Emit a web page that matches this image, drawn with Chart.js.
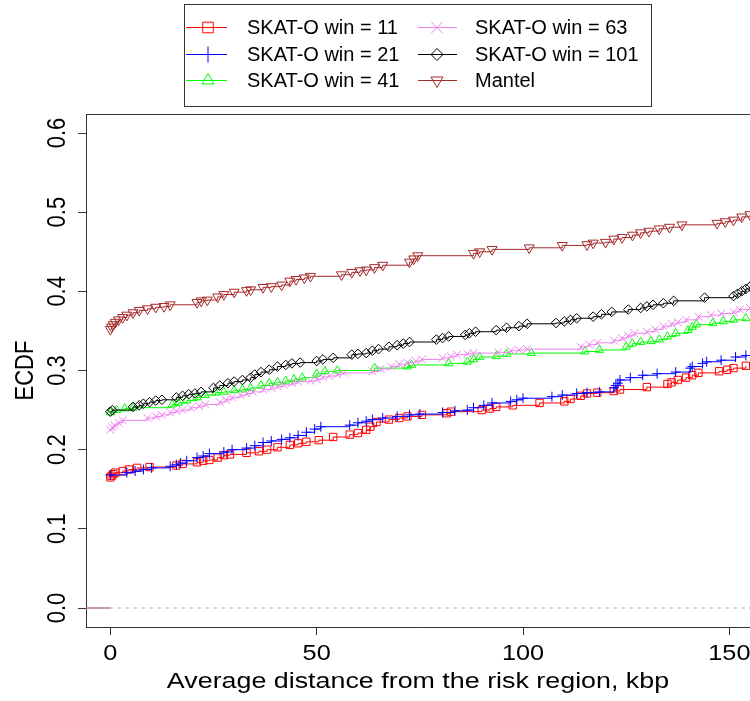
<!DOCTYPE html>
<html>
  <head>
    <meta charset="utf-8">
    <script src="https://cdnjs.cloudflare.com/ajax/libs/Chart.js/4.4.1/chart.umd.min.js"></script>
    <style>
      html, body { margin: 0; padding: 0; background: #fff; overflow: hidden; }
      #wrapper { width: 750px; height: 701px; position: relative; }
      #chart { display: block; }
    </style>
  </head>
  <body>
    <div id="wrapper"><canvas id="chart"></canvas></div>
    <script>
      // ECDF steps: [distance kbp, ECDF]
      const win11 = [[0,0.165],[0.3,0.167],[0.7,0.169],[1.2,0.171],[3,0.173],[4.5,0.175],[6.5,0.177],[9.5,0.178],
        [16,0.180],[17.5,0.182],[21,0.184],[22.5,0.186],[24,0.187],[26,0.190],[27.5,0.193],[29,0.194],
        [33,0.196],[36,0.198],[38,0.200],[40.5,0.203],[43.5,0.206],[45.5,0.208],[47.5,0.210],[50.5,0.212],
        [54,0.216],[58,0.219],[60,0.221],[62,0.225],[63,0.229],[64.5,0.235],[67.5,0.238],[70,0.240],
        [72,0.242],[75.5,0.244],[81.5,0.246],[82.5,0.248],[90,0.250],[92,0.252],[93.5,0.254],[97.5,0.256],
        [104,0.259],[110,0.261],[111.5,0.264],[114,0.268],[115.5,0.271],[118,0.272],[122,0.274],[123.5,0.276],
        [130,0.279],[135,0.283],[136,0.285],[137.5,0.288],[139.5,0.291],[141,0.294],[142.5,0.297],[147.5,0.299],
        [149.5,0.301],[151,0.303],[154,0.306]];
      const win21 = [[0,0.168],[4,0.171],[6,0.173],[8,0.175],[10,0.177],[14.5,0.179],[16,0.181],[17,0.183],
        [18.5,0.186],[21,0.190],[22.5,0.192],[24,0.195],[27.5,0.197],[29.5,0.200],[33,0.202],[35,0.205],
        [37,0.209],[39,0.211],[41.5,0.213],[43.5,0.215],[45.5,0.218],[47.5,0.222],[49.5,0.226],[51,0.229],
        [58,0.231],[60,0.234],[62,0.236],[63.5,0.238],[66,0.240],[69.5,0.242],[72.5,0.244],[75,0.245],
        [80.5,0.247],[83.5,0.249],[86.5,0.250],[88,0.253],[90.5,0.256],[92.5,0.259],[97,0.261],[98.5,0.263],
        [100,0.265],[107,0.267],[109.5,0.269],[113,0.271],[115.5,0.272],[118.5,0.273],[122,0.278],[122.5,0.281],
        [123,0.284],[123.5,0.288],[126,0.291],[129,0.294],[132.5,0.296],[137,0.298],[140.5,0.303],[141,0.305],
        [143.5,0.309],[144.5,0.311],[148,0.313],[151.5,0.317],[154,0.319]];
      const win41 = [[0,0.247],[1.5,0.250],[3.5,0.252],[5.5,0.253],[15,0.257],[16.5,0.259],[18.5,0.262],[21,0.266],
        [23,0.269],[25.5,0.272],[27.5,0.273],[30,0.275],[32,0.276],[34,0.278],[36.5,0.281],[38.5,0.284],
        [40.5,0.285],[42.5,0.287],[44.5,0.289],[46.5,0.291],[50,0.296],[52,0.299],[55,0.300],[64,0.303],
        [72,0.305],[73,0.307],[82,0.309],[86.5,0.311],[88,0.314],[89.5,0.317],[93.5,0.318],[96,0.321],
        [102,0.322],[115,0.324],[118.5,0.326],[125,0.330],[126.5,0.334],[128.5,0.336],[131,0.337],[133,0.339],
        [135,0.343],[137,0.347],[140,0.351],[141,0.355],[142,0.358],[146,0.360],[148.5,0.362],[151,0.364],
        [154,0.366]];
      const win63 = [[0,0.225],[0.5,0.228],[1,0.231],[2,0.234],[3,0.237],[9,0.240],[11,0.242],[12.5,0.244],
        [14.5,0.247],[16,0.249],[17.5,0.250],[19.5,0.253],[21.5,0.255],[23,0.257],[26.5,0.260],[28,0.263],
        [29.5,0.266],[31.5,0.269],[33,0.271],[34.5,0.273],[37,0.276],[39,0.278],[40.5,0.280],[42,0.282],
        [44,0.284],[45.5,0.286],[48.5,0.287],[50,0.289],[51.5,0.292],[53,0.293],[55,0.295],[56.5,0.297],
        [63.5,0.299],[65.5,0.302],[68,0.305],[70,0.308],[72,0.310],[74,0.312],[75.5,0.314],[80.5,0.316],
        [82.5,0.318],[84,0.320],[86.5,0.321],[88,0.322],[94,0.323],[97,0.325],[99,0.326],[101,0.327],
        [114,0.330],[116,0.333],[118,0.335],[122,0.338],[124,0.341],[125.5,0.344],[127,0.347],[130,0.349],
        [132,0.352],[134,0.356],[136,0.359],[137.5,0.361],[139.5,0.364],[142.5,0.368],[145.5,0.370],[148,0.372],
        [151,0.374],[152.5,0.377],[155,0.379]];
      const win101 = [[0,0.248],[0.5,0.250],[5.5,0.254],[7,0.256],[8,0.258],[9.5,0.260],[11,0.262],[12.5,0.263],
        [16,0.266],[17.5,0.268],[19,0.270],[20.5,0.271],[22,0.273],[25,0.278],[26.5,0.281],[28.5,0.284],
        [30,0.286],[32,0.288],[34,0.291],[35,0.295],[36.5,0.298],[38.5,0.301],[40.5,0.305],[42.5,0.307],
        [44,0.309],[46,0.310],[50,0.312],[51.5,0.314],[54,0.316],[58.5,0.320],[60,0.321],[62,0.322],
        [63.5,0.325],[65,0.327],[67.5,0.330],[69.5,0.332],[71,0.334],[72.5,0.336],[79,0.339],[80.5,0.341],
        [82,0.343],[86,0.345],[87,0.347],[88.5,0.349],[93.5,0.351],[96,0.354],[99,0.356],[101,0.359],
        [108,0.360],[110,0.362],[111.5,0.364],[113,0.366],[117,0.368],[119,0.371],[121.5,0.374],[125.5,0.377],
        [128.5,0.379],[130,0.381],[131.5,0.383],[134,0.385],[136.5,0.388],[144,0.392],[151,0.394],[152,0.397],
        [153,0.400],[154,0.403],[155,0.406]];
      const mantel = [[0,0.352],[0.3,0.355],[0.7,0.358],[1.2,0.361],[2,0.364],[3,0.367],[4,0.370],[5.5,0.373],
        [7,0.376],[9,0.378],[11,0.380],[13,0.381],[14.5,0.383],[21,0.386],[22,0.388],[23.5,0.389],
        [26,0.393],[27.5,0.396],[30,0.399],[33,0.401],[34,0.402],[37,0.405],[39,0.406],[41.5,0.408],
        [43.5,0.413],[45,0.415],[47,0.417],[48.5,0.419],[56,0.421],[58.5,0.424],[60.5,0.426],[62,0.427],
        [64,0.430],[66,0.433],[72.5,0.437],[73.5,0.441],[74.5,0.445],[88,0.448],[89.5,0.450],[92.5,0.453],
        [101.5,0.455],[109.5,0.458],[115.5,0.459],[117,0.461],[120,0.462],[122,0.466],[124,0.468],[126.5,0.471],
        [128.5,0.474],[130.5,0.476],[133,0.479],[135.5,0.481],[138.5,0.484],[147,0.486],[149,0.488],[151,0.490],
        [153,0.494],[155,0.497]];

      const seriesLabels = ['SKAT-O win = 11', 'SKAT-O win = 21', 'SKAT-O win = 41',
                            'SKAT-O win = 63', 'SKAT-O win = 101', 'Mantel'];
      const xTicks = [0, 50, 100, 150];
      const yTicks = [0, 0.1, 0.2, 0.3, 0.4, 0.5, 0.6];

      const seriesData = [win11, win21, win41, win63, win101, mantel];
      const colors = ['#FF0000', '#0000FF', '#00FF00', '#EE82EE', '#000000', '#A52A2A'];
      const markers = ['rect', 'cross', 'triangle', 'crossRot', 'rectRot', 'triangle'];
      const rotations = [0, 0, 0, 0, 0, 180];
      const radii = [5.2, 5, 4.8, 5.5, 4.8, 5.8];
      const legendRadii = [7.5, 8, 7, 8, 6, 7];

      const datasets = seriesData.map(function(pts, i) {
        return {
          label: seriesLabels[i],
          data: pts.map(function(p) { return {x: p[0], y: p[1]}; }),
          borderColor: colors[i],
          borderWidth: 1,
          stepped: true,
          fill: false,
          pointStyle: markers[i],
          pointRotation: rotations[i],
          pointRadius: radii[i],
          pointBorderColor: colors[i],
          pointBackgroundColor: 'rgba(0,0,0,0)',
          pointBorderWidth: 1,
          order: 10 - i
        };
      });
      // ECDF is 0 left of the first jump
      datasets.push({
        data: [{x: -10, y: 0}, {x: mantel[0][0], y: 0}],
        borderColor: '#A52A2A', borderWidth: 1, pointRadius: 0, order: 4
      });
      // gray70 dashed line at 0
      datasets.push({
        data: [{x: -10, y: 0}, {x: 200, y: 0}],
        borderColor: '#B3B3B3', borderWidth: 1, borderDash: [4, 4], pointRadius: 0, order: 3
      });

      const rStyle = {
        id: 'rStyle',
        afterDraw(chart) {
          const ctx = chart.ctx;
          const a = chart.chartArea;
          const xs = chart.scales.x, ys = chart.scales.y;
          ctx.save();
          ctx.strokeStyle = '#333';
          ctx.lineWidth = 1;
          ctx.beginPath();
          ctx.moveTo(a.left, Math.round(a.top) + 0.5);
          ctx.lineTo(a.right, Math.round(a.top) + 0.5);
          ctx.stroke();

          ctx.fillStyle = '#000';
          ctx.font = '22px "Liberation Sans", Arial, sans-serif';
          ctx.textAlign = 'center';
          ctx.textBaseline = 'alphabetic';
          xs.ticks.forEach(function(t) {
            ctx.save();
            ctx.translate(xs.getPixelForValue(t.value), 660);
            ctx.scale(1.15, 1);
            ctx.fillText(String(t.value), 0, 0);
            ctx.restore();
          });
          ys.ticks.forEach(function(t) {
            ctx.save();
            ctx.translate(65, ys.getPixelForValue(t.value));
            ctx.rotate(-Math.PI / 2);
            ctx.scale(1, 1.14);
            ctx.fillText(t.value.toFixed(1), 0, 0);
            ctx.restore();
          });
          // axis titles
          ctx.save();
          ctx.translate((a.left + a.right) / 2, 688);
          ctx.scale(1.22, 1);
          ctx.fillText('Average distance from the risk region, kbp', 0, 0);
          ctx.restore();
          ctx.save();
          ctx.translate(33, (a.top + a.bottom) / 2);
          ctx.rotate(-Math.PI / 2);
          ctx.scale(1, 1.14);
          ctx.fillText('ECDF', 0, 0);
          ctx.restore();

          // legend, two columns filled top-down like R
          ctx.strokeStyle = '#333';
          ctx.strokeRect(184.5, 4.5, 467, 102);
          const rows = [27, 53.5, 80];
          const cols = [{l0: 186, l1: 227, m: 208, t: 247}, {l0: 418, l1: 457, m: 437, t: 475}];
          ctx.font = '20px "Liberation Sans", Arial, sans-serif';
          ctx.textAlign = 'left';
          seriesLabels.forEach(function(label, i) {
            const c = cols[Math.floor(i / 3)];
            const y = rows[i % 3];
            ctx.strokeStyle = colors[i];
            ctx.lineWidth = 1;
            ctx.beginPath();
            ctx.moveTo(c.l0, Math.round(y) + 0.5);
            ctx.lineTo(c.l1, Math.round(y) + 0.5);
            ctx.stroke();
            if (Chart.helpers && Chart.helpers.drawPoint) {
              ctx.fillStyle = 'rgba(0,0,0,0)';
              Chart.helpers.drawPoint(ctx, {pointStyle: markers[i], rotation: rotations[i],
                radius: legendRadii[i], borderWidth: 1}, c.m, Math.round(y) + 0.5);
            }
            ctx.fillStyle = '#000';
            ctx.fillText(label, c.t, y + 7);
          });
          ctx.restore();
        }
      };

      new Chart('chart', {
        type: 'line',
        data: { datasets: datasets },
        plugins: [rStyle],
        options: {
          responsive: true,
          maintainAspectRatio: false,
          animation: false,
          events: [],
          layout: { autoPadding: false, padding: { top: 114, left: 0, right: 0, bottom: 0 } },
          plugins: { legend: { display: false }, tooltip: { enabled: false } },
          scales: {
            x: {
              type: 'linear',
              min: -5.9,
              max: 155,
              afterBuildTicks: function(s) { s.ticks = xTicks.map(function(v) { return {value: v}; }); },
              afterFit: function(s) { s.height = 74; },
              ticks: { display: false },
              grid: { drawOnChartArea: false, drawTicks: true, tickLength: 8, color: '#333' },
              border: { display: true, color: '#333' }
            },
            y: {
              type: 'linear',
              min: -0.024,
              max: 0.624,
              afterBuildTicks: function(s) { s.ticks = yTicks.map(function(v) { return {value: v}; }); },
              afterFit: function(s) { s.width = 86; },
              ticks: { display: false },
              grid: { drawOnChartArea: false, drawTicks: true, tickLength: 8, color: '#333' },
              border: { display: true, color: '#333' }
            }
          }
        }
      });
    </script>
  </body>
</html>
